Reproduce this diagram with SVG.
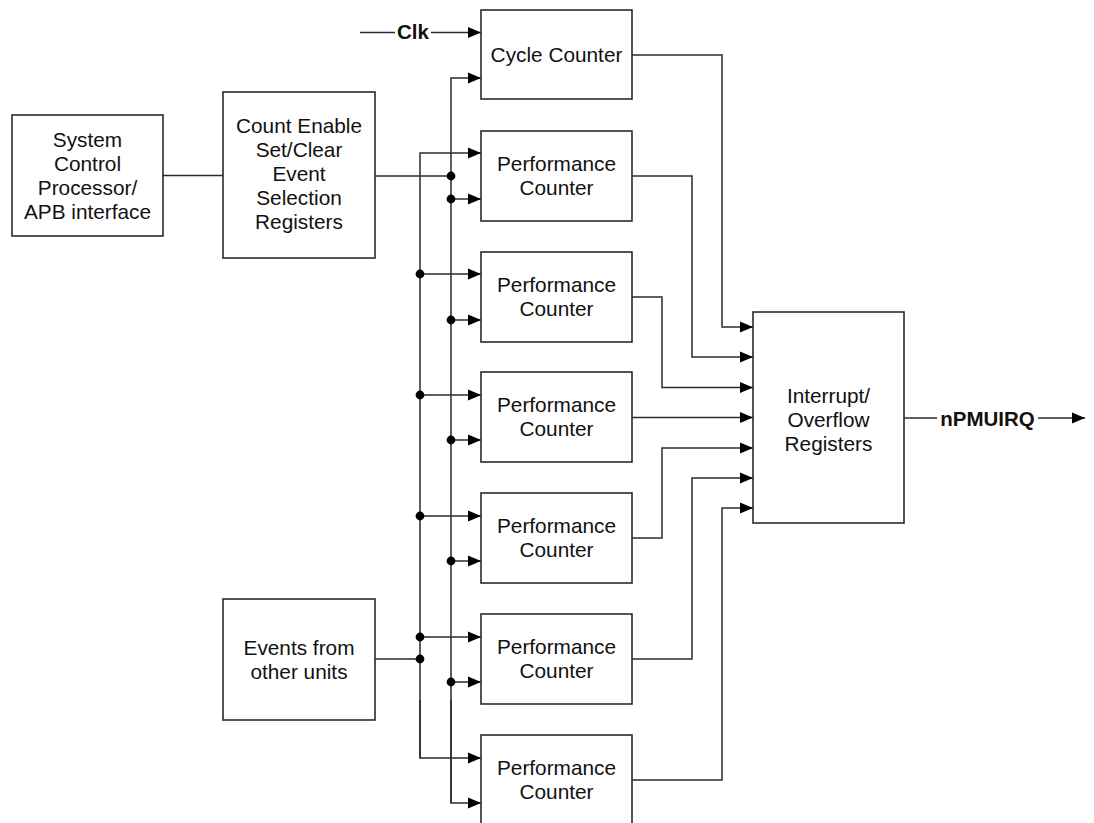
<svg xmlns="http://www.w3.org/2000/svg" width="1094" height="823" viewBox="0 0 1094 823">
<style>
.box{fill:#fff;stroke:#2b2b2b;stroke-width:1.6}
.w{fill:none;stroke:#2b2b2b;stroke-width:1.5}
.a{fill:none;stroke:#2b2b2b;stroke-width:1.5;marker-end:url(#ah)}
.t{font-family:"Liberation Sans",Arial,sans-serif;font-size:20.8px;fill:#111;text-anchor:middle}
.b{font-family:"Liberation Sans",Arial,sans-serif;font-size:20.5px;font-weight:bold;fill:#111;text-anchor:middle}
.d{fill:#000}
</style>
<defs>
<marker id="ah" markerUnits="userSpaceOnUse" markerWidth="13" markerHeight="11" refX="13" refY="5.5" orient="auto" overflow="visible">
<path d="M0,0 L13,5.5 L0,11 z" fill="#000"/>
</marker>
</defs>
<rect width="1094" height="823" fill="#fff"/>
<g id="connectors">
<path class="w" d="M360,32.5 H395"/>
<path class="a" d="M431,32.5 H481"/>
<text class="b" x="413" y="39">Clk</text>
<path class="w" d="M163,175.5 H223"/>
<path class="w" d="M375,176 H451"/>
<path class="a" d="M451,803 V78 H481"/>
<path class="a" d="M451,199 H481"/>
<path class="a" d="M451,320 H481"/>
<path class="a" d="M451,440 H481"/>
<path class="a" d="M451,561 H481"/>
<path class="a" d="M451,682 H481"/>
<path class="a" d="M451,700 V803 H481"/>
<path class="a" d="M420,758 V153 H481"/>
<path class="a" d="M420,274 H481"/>
<path class="a" d="M420,395 H481"/>
<path class="a" d="M420,516 H481"/>
<path class="a" d="M420,637 H481"/>
<path class="a" d="M420,700 V758 H481"/>
<path class="w" d="M375,659 H420"/>
<circle class="d" cx="451" cy="176" r="4.4"/>
<circle class="d" cx="451" cy="199" r="4.4"/>
<circle class="d" cx="451" cy="320" r="4.4"/>
<circle class="d" cx="451" cy="440" r="4.4"/>
<circle class="d" cx="451" cy="561" r="4.4"/>
<circle class="d" cx="451" cy="682" r="4.4"/>
<circle class="d" cx="420" cy="274" r="4.4"/>
<circle class="d" cx="420" cy="395" r="4.4"/>
<circle class="d" cx="420" cy="516" r="4.4"/>
<circle class="d" cx="420" cy="637" r="4.4"/>
<circle class="d" cx="420" cy="659" r="4.4"/>
<path class="a" d="M632,55 H722 V327 H753"/>
<path class="a" d="M632,176 H692 V357 H753"/>
<path class="a" d="M632,297 H662 V387.5 H753"/>
<path class="a" d="M632,417.5 H753"/>
<path class="a" d="M632,538 H662 V448 H753"/>
<path class="a" d="M632,659 H692 V478 H753"/>
<path class="a" d="M632,780 H722 V508 H753"/>
<path class="w" d="M904,418 H937"/>
<path class="a" d="M1038,418 H1085"/>
<text class="b" x="987.5" y="425.5">nPMUIRQ</text>
</g>
<g id="sys">
<rect class="box" x="12" y="115" width="151" height="121"/>
<text class="t" x="87.5" y="146.5">System</text>
<text class="t" x="87.5" y="170.5">Control</text>
<text class="t" x="87.5" y="194.5">Processor/</text>
<text class="t" x="87.5" y="218.5">APB interface</text>
</g>
<g id="cnten">
<rect class="box" x="223" y="92" width="152" height="166"/>
<text class="t" x="299" y="132.5">Count Enable</text>
<text class="t" x="299" y="156.5">Set/Clear</text>
<text class="t" x="299" y="180.5">Event</text>
<text class="t" x="299" y="204.5">Selection</text>
<text class="t" x="299" y="228.5">Registers</text>
</g>
<g id="events">
<rect class="box" x="223" y="599" width="152" height="121"/>
<text class="t" x="299" y="654.5">Events from</text>
<text class="t" x="299" y="678.5">other units</text>
</g>
<g id="cycle">
<rect class="box" x="481" y="10" width="151" height="89"/>
<text class="t" x="556.5" y="62">Cycle Counter</text>
</g>
<g id="pc1">
<rect class="box" x="481" y="131" width="151" height="90"/>
<text class="t" x="556.5" y="171">Performance</text>
<text class="t" x="556.5" y="195">Counter</text>
</g>
<g id="pc2">
<rect class="box" x="481" y="252" width="151" height="90"/>
<text class="t" x="556.5" y="292">Performance</text>
<text class="t" x="556.5" y="316">Counter</text>
</g>
<g id="pc3">
<rect class="box" x="481" y="372" width="151" height="90"/>
<text class="t" x="556.5" y="412">Performance</text>
<text class="t" x="556.5" y="436">Counter</text>
</g>
<g id="pc4">
<rect class="box" x="481" y="493" width="151" height="90"/>
<text class="t" x="556.5" y="533">Performance</text>
<text class="t" x="556.5" y="557">Counter</text>
</g>
<g id="pc5">
<rect class="box" x="481" y="614" width="151" height="90"/>
<text class="t" x="556.5" y="654">Performance</text>
<text class="t" x="556.5" y="678">Counter</text>
</g>
<g id="pc6">
<rect class="box" x="481" y="735" width="151" height="90"/>
<text class="t" x="556.5" y="775">Performance</text>
<text class="t" x="556.5" y="799">Counter</text>
</g>
<g id="irq">
<rect class="box" x="753" y="312" width="151" height="211"/>
<text class="t" x="828.5" y="402.5">Interrupt/</text>
<text class="t" x="828.5" y="426.5">Overflow</text>
<text class="t" x="828.5" y="450.5">Registers</text>
</g>
</svg>
